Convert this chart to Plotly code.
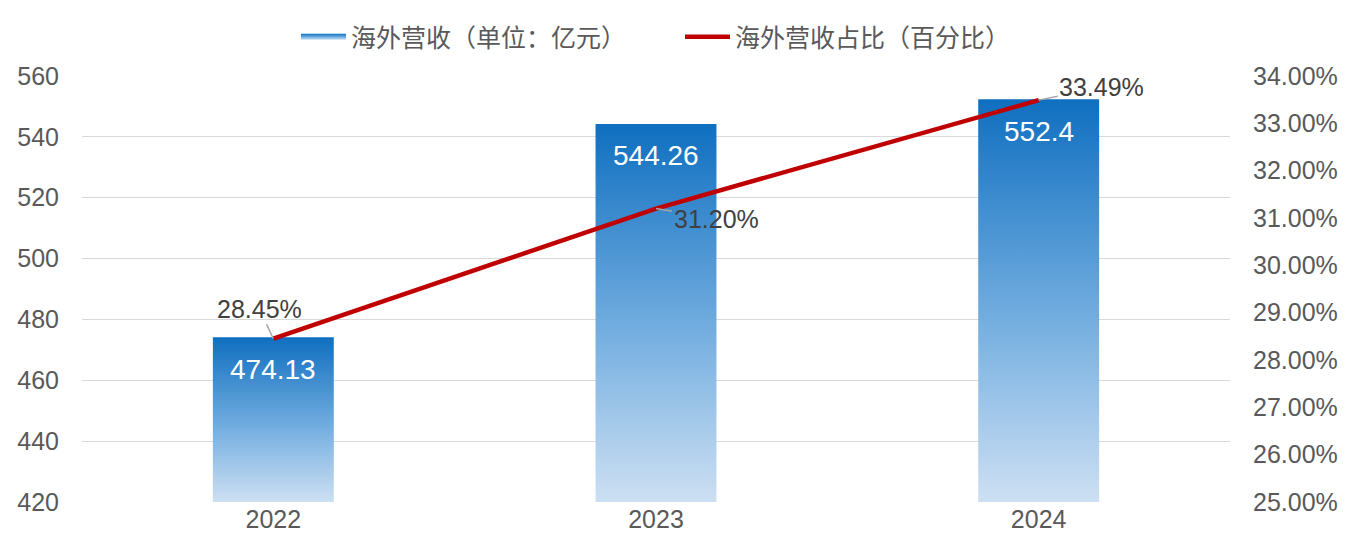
import plotly.graph_objects as go

years = ["2022", "2023", "2024"]
revenue = [474.13, 544.26, 552.4]
share = [28.45, 31.20, 33.49]
share_labels = ["28.45%", "31.20%", "33.49%"]
right_ticks = [25, 26, 27, 28, 29, 30, 31, 32, 33, 34]

cn_font = "Noto Sans CJK SC"
num_font = "Liberation Sans, Arial"
half_w = 0.158
y_min = 420

fig = go.Figure()

# gradient bars: filled rectangles with vertical gradient
for i, v in enumerate(revenue):
    fig.add_trace(go.Scatter(
        x=[i - half_w, i + half_w, i + half_w, i - half_w, i - half_w],
        y=[y_min, y_min, v, v, y_min],
        mode="none",
        fill="toself",
        fillgradient=dict(type="vertical",
                          colorscale=[[0, "#cde0f3"], [0.45, "#74aee0"], [1, "#0f6fc0"]]),
        name="海外营收（单位：亿元）",
        legendgroup="bar",
        showlegend=(i == 0),
        legendwidth=324,
        hoverinfo="skip",
    ))

fig.add_trace(go.Scatter(
    x=list(range(len(years))),
    y=share,
    mode="lines",
    line=dict(color="#c00000", width=4.5),
    name="海外营收占比（百分比）",
    yaxis="y2",
))

for i, v in enumerate(revenue):
    fig.add_annotation(x=i, y=v, text=str(v), showarrow=False, yshift=-32,
                       font=dict(family=num_font, size=28, color="white"))

offsets = [(-14, -30), (60, 10), (63, -13)]
for i, (p, t) in enumerate(zip(share, share_labels)):
    ax, ay = offsets[i]
    fig.add_annotation(x=i, y=p, yref="y2", text=t, showarrow=True,
                       arrowhead=0, arrowwidth=1.5, arrowcolor="#a6a6a6",
                       ax=ax, ay=ay, standoff=0,
                       font=dict(family=num_font, size=25, color="#404040"))

fig.update_layout(
    width=1353, height=546,
    margin=dict(l=74, r=131, t=68, b=52, autoexpand=False),
    paper_bgcolor="white", plot_bgcolor="white",
    font=dict(family=num_font, size=25, color="#595959"),
    xaxis=dict(range=[-0.5, 2.5], tickvals=list(range(len(years))), ticktext=years,
               showgrid=False, zeroline=False, showline=False, ticks="",
               tickfont=dict(size=25, color="#595959"), automargin=False),
    yaxis=dict(range=[420, 560], dtick=20, gridcolor="#d9d9d9", gridwidth=1,
               zeroline=False, showline=False, ticks="", ticklabelstandoff=22,
               automargin=False),
    yaxis2=dict(range=[25, 34], overlaying="y", side="right",
                tickvals=right_ticks, ticktext=[f"{t:.2f}%" for t in right_ticks],
                showgrid=False, zeroline=False, showline=False, ticks="",
                ticklabelstandoff=22, automargin=False),
    legend=dict(orientation="h", x=0.5, xanchor="center", y=1.0915, yanchor="middle",
                font=dict(family=cn_font, size=25, color="#595959"),
                itemwidth=45, tracegroupgap=0),
    showlegend=True,
)

fig.write_html("out.html")
